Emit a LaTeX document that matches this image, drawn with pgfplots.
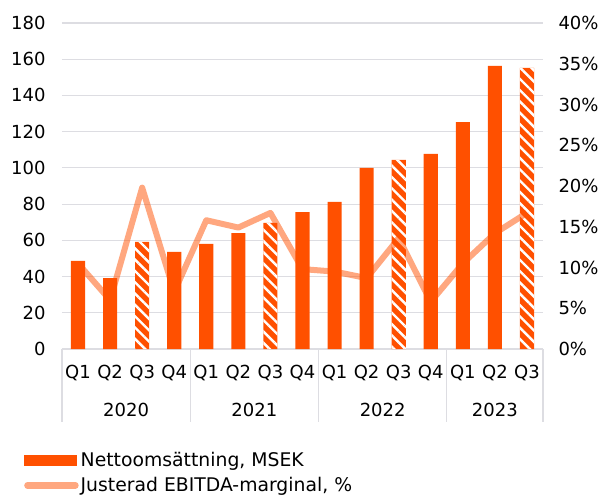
\documentclass[border=0pt]{standalone}
\usepackage{pgfplots}
\pgfplotsset{compat=1.18}
\usepackage{fontspec}
\setmainfont{DejaVu Sans}
\usetikzlibrary{patterns.meta}
\definecolor{barorange}{HTML}{FF5000}
\definecolor{gridgray}{HTML}{DDDDE2}

\begin{document}
\begin{tikzpicture}[font=\fontsize{18}{21}\selectfont]
\pgfplotsset{
  base/.style={
    scale only axis, width=481pt, height=326pt,
    xmin=-0.5, xmax=14.5,
    major tick length=0pt,
    /pgf/number format/assume math mode=true,
    tick label style={font=\fontsize{18}{21}\selectfont},
    clip=false,
  },
}
\begin{axis}[
  base,
  ymin=0, ymax=180,
  ytick={0,20,...,180},
  xtick={0,...,14},
  xticklabels={Q1,Q2,Q3,Q4,Q1,Q2,Q3,Q4,Q1,Q2,Q3,Q4,Q1,Q2,Q3},
  axis x line*=bottom, axis y line*=left,
  y axis line style={draw=none},
  x axis line style={draw=gridgray, line width=1.2pt, -},
  ymajorgrids, grid style={draw=gridgray, line width=1.2pt},
  yticklabel style={xshift=-13pt},
  xticklabel style={yshift=-13pt},
  legend style={at={(0,0)}, anchor=north west, xshift=-38pt, yshift=-101pt,
    draw=none, fill=none, inner sep=0pt, row sep=5.5pt,
    font=\fontsize{18.8}{21}\selectfont},
  legend cell align=left,
]
\coordinate (O) at (rel axis cs:0,0);
% solid bars
\addplot[ybar, bar width=0.44, bar shift=0pt, fill=barorange, draw=none, forget plot]
  coordinates {(0,48.6)(1,39.2)(3,53.6)(4,58.0)(5,64.0)(7,75.6)(8,81.2)
               (9,100.0)(11,107.7)(12,125.3)(13,156.3)};
% hatched Q3 bars
\addplot[ybar, bar width=0.44, bar shift=0pt, fill=barorange, draw=none, forget plot,
  postaction={pattern={Lines[angle=-45,distance=8pt,line width=2.4pt]}, pattern color=white}]
  coordinates {(2,59.1)(6,69.6)(10,104.4)(14,155.2)};

\addlegendimage{legend image code/.code={\fill[barorange] (0pt,-5.3pt) rectangle (52pt,5.3pt);}}
\addlegendentry{Nettoomsättning, MSEK}
\addlegendimage{legend image code/.code={\draw[barorange, opacity=0.5, line width=6.5pt, line cap=round] (3pt,0pt) -- (51pt,0pt);}}
\addlegendentry{Justerad EBITDA-marginal, \%}

% group separators and years
\foreach \x in {-0.5,3.5,7.5,11.5,14.5} {
  \edef\temp{\noexpand\draw[gridgray, line width=1.2pt] (axis cs:\x,0) -- ++(0pt,-73pt);}
  \temp
}
\node at (axis cs:1.5,0)  [yshift=-61pt] {2020};
\node at (axis cs:5.5,0)  [yshift=-61pt] {2021};
\node at (axis cs:9.5,0)  [yshift=-61pt] {2022};
\node at (axis cs:13,0)   [yshift=-61pt] {2023};
\end{axis}

\begin{axis}[
  base,
  ymin=0, ymax=40,
  ytick={0,5,...,40},
  yticklabel={\pgfmathprintnumber{\tick}\%},
  axis y line*=right, axis x line=none,
  y axis line style={draw=none},
  yticklabel style={xshift=12pt},
]
\addplot[barorange, opacity=0.5, line width=6pt, line join=round]
  coordinates {(0,10.5)(1,6.0)(2,19.8)(3,7.0)(4,15.8)(5,14.9)(6,16.7)(7,9.8)
               (8,9.5)(9,8.7)(10,13.6)(11,5.8)(12,10.5)(13,14.2)(14,16.7)};
\end{axis}
\pgfresetboundingbox
\path (O) ++(-62pt,-149pt) rectangle ++(606pt,498pt);
\end{tikzpicture}
\end{document}
